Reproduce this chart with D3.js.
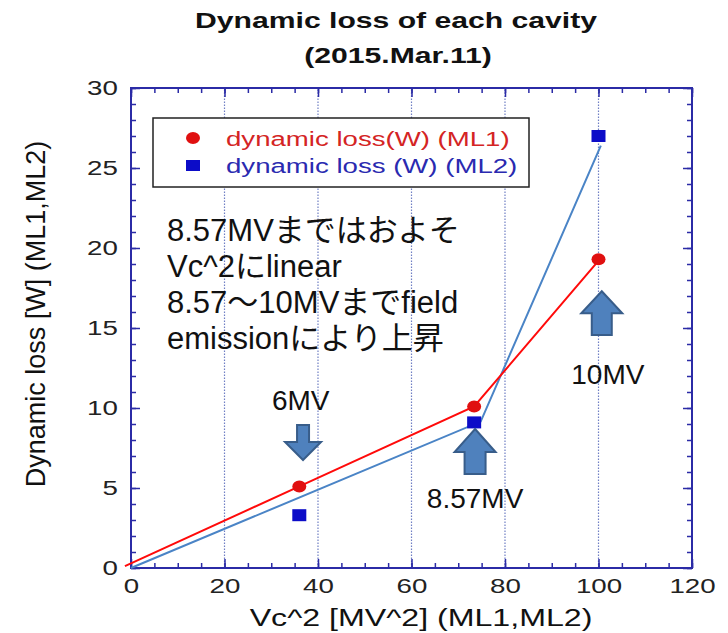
<!DOCTYPE html>
<html>
<head>
<meta charset="utf-8">
<script src="https://cdn.jsdelivr.net/npm/d3@7"></script>
<style>
  body { margin: 0; background: #fff; }
  svg { display: block; }
</style>
</head>
<body>
<svg width="728" height="633"></svg>
<script>
// measured values
const vc2 = [36, 73.4, 100];
const lossML1 = [5.1, 10.1, 19.3];
const lossML2 = [3.3, 9.1, 27.0];
// hand-drawn trend lines
const trendML1X = [-1.3, 36, 73.4, 100.3];
const trendML1Y = [0.12, 5.1, 10.1, 19.3];
const trendML2X = [0, 74.8, 100.5];
const trendML2Y = [0, 9.15, 26.4];

const xTicks = [0, 20, 40, 60, 80, 100, 120];
const yTicks = [0, 5, 10, 15, 20, 25, 30];
const gridX = [20, 40, 60, 80, 100];
const seriesNames = ["dynamic loss(W) (ML1)", "dynamic loss (W) (ML2)"];
const noteLines = ["8.57MVまではおよそ", "Vc^2にlinear", "8.57〜10MVまでfield", "emissionにより上昇"];
const arrowLabels = ["6MV", "8.57MV", "10MV"];

const svg = d3.select("svg");
const SX = 1.32;        // the original image is stretched sideways
const axisColor = "#2b2ba6";
const font = "'Liberation Sans', Arial, sans-serif";
const jpFont = "'Liberation Sans', Arial, 'Noto Sans CJK JP', sans-serif";

const x = d3.scaleLinear().domain([0, 120]).range([131, 692]);
const y = d3.scaleLinear().domain([0, 30]).range([568, 88]);

// title
const title = svg.append("g").attr("font-family", font).attr("font-weight", "bold")
  .attr("font-size", 22).attr("fill", "#111").attr("text-anchor", "middle");
title.append("text").attr("transform", "translate(396,28) scale(1.37,1)").text("Dynamic loss of each cavity");
title.append("text").attr("transform", "translate(398,63) scale(1.37,1)").text("(2015.Mar.11)");

// vertical dotted grid
svg.append("g").selectAll("line").data(gridX).join("line")
  .attr("x1", d => x(d)).attr("x2", d => x(d))
  .attr("y1", y(0)).attr("y2", y(30))
  .attr("stroke", "#6f7fc4").attr("stroke-width", 1.2)
  .attr("stroke-dasharray", "1.5,1.5");

// axes: minor + major ticks on four sides
function styleAxis(g) {
  g.select(".domain").remove();
  g.selectAll(".tick line").attr("stroke", axisColor).attr("stroke-width", 1.5);
}
const h = y(0), w = x(120);
svg.append("g").attr("transform", `translate(0,${h})`)
  .call(d3.axisBottom(x).tickValues(d3.range(0, 121, 5)).tickSizeInner(-5).tickSizeOuter(0).tickFormat(""))
  .call(styleAxis);
svg.append("g").attr("transform", `translate(0,${y(30)})`)
  .call(d3.axisTop(x).tickValues(d3.range(0, 121, 5)).tickSizeInner(-5).tickSizeOuter(0).tickFormat(""))
  .call(styleAxis);
svg.append("g").attr("transform", `translate(${x(0)},0)`)
  .call(d3.axisLeft(y).tickValues(d3.range(0, 31, 1)).tickSizeInner(-5).tickSizeOuter(0).tickFormat(""))
  .call(styleAxis);
svg.append("g").attr("transform", `translate(${w},0)`)
  .call(d3.axisRight(y).tickValues(d3.range(0, 31, 1)).tickSizeInner(-5).tickSizeOuter(0).tickFormat(""))
  .call(styleAxis);

const xAxis = svg.append("g").attr("transform", `translate(0,${h})`)
  .call(d3.axisBottom(x).tickValues(xTicks).tickSizeInner(-9).tickSizeOuter(0).tickPadding(10))
  .call(styleAxis);
svg.append("g").attr("transform", `translate(0,${y(30)})`)
  .call(d3.axisTop(x).tickValues(xTicks).tickSizeInner(-9).tickSizeOuter(0).tickFormat(""))
  .call(styleAxis);
const yAxis = svg.append("g").attr("transform", `translate(${x(0)},0)`)
  .call(d3.axisLeft(y).tickValues(yTicks).tickSizeInner(-9).tickSizeOuter(0).tickPadding(10))
  .call(styleAxis);
svg.append("g").attr("transform", `translate(${w},0)`)
  .call(d3.axisRight(y).tickValues(yTicks).tickSizeInner(-9).tickSizeOuter(0).tickFormat(""))
  .call(styleAxis);

[xAxis, yAxis].forEach(a => a.selectAll(".tick text")
  .attr("font-family", font).attr("font-size", 21).attr("fill", "#222")
  .attr("transform", `scale(${SX},1)`));

// frame
svg.append("rect").attr("x", x(0)).attr("y", y(30))
  .attr("width", x(120) - x(0)).attr("height", y(0) - y(30))
  .attr("fill", "none").attr("stroke", axisColor).attr("stroke-width", 2);

// axis titles
svg.append("text").attr("font-family", font).attr("font-size", 24).attr("fill", "#111")
  .attr("text-anchor", "middle")
  .attr("transform", "translate(421,626) scale(1.34,1)")
  .text("Vc^2 [MV^2] (ML1,ML2)");
svg.append("text").attr("font-family", font).attr("font-size", 27).attr("fill", "#111")
  .attr("text-anchor", "middle")
  .attr("transform", "translate(45,314) rotate(-90)")
  .text("Dynamic loss [W] (ML1,ML2)");

// trend lines
const line = d3.line().x(d => x(d[0])).y(d => y(d[1]));
svg.append("path").datum(d3.zip(trendML2X, trendML2Y)).attr("d", line)
  .attr("fill", "none").attr("stroke", "#4a84c6").attr("stroke-width", 2);
svg.append("path").datum(d3.zip(trendML1X, trendML1Y)).attr("d", line)
  .attr("fill", "none").attr("stroke", "#ff0a0a").attr("stroke-width", 2);

// markers
function circleMark(sel) {
  return sel.attr("rx", 7).attr("ry", 6).attr("fill", "#e01010");
}
function squareMark(sel) {
  return sel.attr("width", 14).attr("height", 12).attr("fill", "#0c0cc8");
}
svg.append("g").selectAll("ellipse").data(d3.zip(vc2, lossML1)).join("ellipse")
  .attr("cx", d => x(d[0])).attr("cy", d => y(d[1])).call(circleMark);
svg.append("g").selectAll("rect").data(d3.zip(vc2, lossML2)).join("rect")
  .attr("x", d => x(d[0]) - 7).attr("y", d => y(d[1]) - 6).call(squareMark);

// legend
const lg = svg.append("g");
lg.append("rect").attr("x", 153).attr("y", 118).attr("width", 376).attr("height", 69)
  .attr("fill", "#fff").attr("stroke", "#222").attr("stroke-width", 1.5);
lg.append("ellipse").attr("cx", 193).attr("cy", 138).call(circleMark);
lg.append("rect").attr("x", 186).attr("y", 160).call(squareMark).attr("height", 11);
const legColors = ["#d42424", "#2a2ab0"];
lg.selectAll("text").data(seriesNames).join("text")
  .attr("transform", (d, i) => `translate(226,${146 + i * 27}) scale(1.38,1)`)
  .attr("font-family", font).attr("font-size", 20)
  .attr("fill", (d, i) => legColors[i]).text(d => d);

// note text
svg.append("g").attr("font-family", jpFont).attr("font-size", 31).attr("fill", "#111")
  .selectAll("text").data(noteLines).join("text")
  .attr("x", 167).attr("y", (d, i) => 240.5 + i * 36.2).text(d => d);

// block arrows pointing at the three gradients
const arrows = [
  { vx: 36.8, tip: 6.75, tail: 8.94, hw: 18, hh: 18, bw: 6 },
  { vx: 73.6, tip: 8.69, tail: 5.87, hw: 20.5, hh: 23, bw: 10.5 },
  { vx: 100.7, tip: 17.3, tail: 14.56, hw: 20.5, hh: 22, bw: 10 }
];
const arrowPath = a => {
  const cx = x(a.vx), t = y(a.tip), b = y(a.tail);
  const s = b > t ? 1 : -1;   // +1: points up
  const hb = t + s * a.hh;
  return d3.line()([[cx, t], [cx + a.hw, hb], [cx + a.bw, hb], [cx + a.bw, b],
    [cx - a.bw, b], [cx - a.bw, hb], [cx - a.hw, hb]]) + "Z";
};
svg.append("g").selectAll("path").data(arrows).join("path")
  .attr("d", arrowPath).attr("fill", "#4f81bd")
  .attr("stroke", "#385d8a").attr("stroke-width", 2).attr("stroke-linejoin", "miter");

const labelPos = [[36.3, 9.875], [73.6, 3.75], [102, 11.5]];
svg.append("g").attr("font-family", font).attr("font-size", 28).attr("fill", "#111")
  .attr("text-anchor", "middle")
  .selectAll("text").data(arrowLabels).join("text")
  .attr("x", (d, i) => x(labelPos[i][0])).attr("y", (d, i) => y(labelPos[i][1]))
  .text(d => d);
</script>
</body>
</html>
